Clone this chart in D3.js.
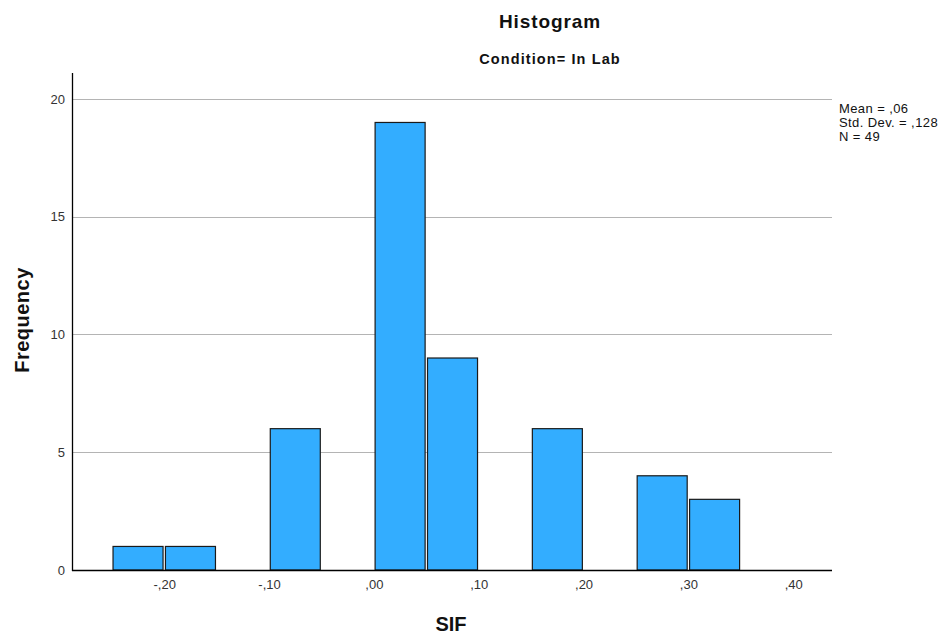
<!DOCTYPE html>
<html>
<head>
<meta charset="utf-8">
<script src="https://cdn.jsdelivr.net/npm/d3@7"></script>
<style>
  html, body { margin: 0; padding: 0; background: #fff; }
  svg { display: block; font-family: "Liberation Sans", Arial, sans-serif; }
</style>
</head>
<body>
<svg id="chart" width="945" height="635"></svg>
<script>
// Histogram bins of SIF (bin start, bin end) and their frequencies
const binStarts = [-0.25, -0.20, -0.10, 0.00, 0.05, 0.15, 0.25, 0.30];
const binWidth = 0.05;
const frequencies = [1, 1, 6, 19, 9, 6, 4, 3];
const xTickValues = [-0.2, -0.1, 0.0, 0.1, 0.2, 0.3, 0.4];
const xTickLabels = ["-,20", "-,10", ",00", ",10", ",20", ",30", ",40"];
const yTickValues = [0, 5, 10, 15, 20];
const statsLines = ["Mean = ,06", "Std. Dev. = ,128", "N = 49"];

(function draw() {
  const svg = d3.select("#chart");
  const plotLeft = 72, plotRight = 832, plotTop = 73, plotBottom = 570;

  const x = d3.scaleLinear().domain([-0.288, 0.437]).range([plotLeft, plotRight]);
  const y = d3.scaleLinear().domain([0, 21.1]).range([plotBottom, plotTop]);

  // Horizontal gridlines
  svg.append("g")
    .selectAll("line")
    .data(yTickValues.filter(v => v > 0))
    .join("line")
    .attr("x1", plotLeft).attr("x2", plotRight)
    .attr("y1", d => Math.round(y(d)) + 0.5).attr("y2", d => Math.round(y(d)) + 0.5)
    .attr("stroke", "#b4b4b4").attr("stroke-width", 1.2);

  // Bars
  svg.append("g")
    .selectAll("rect")
    .data(binStarts.map((s, i) => ({ s, f: frequencies[i] })))
    .join("rect")
    .attr("x", d => x(d.s) + 1.2)
    .attr("width", d => x(d.s + binWidth) - x(d.s) - 2.4)
    .attr("y", d => y(d.f))
    .attr("height", d => y(0) - y(d.f))
    .attr("fill", "#33adff")
    .attr("stroke", "#1a1a1a")
    .attr("stroke-width", 1.2);

  // Y axis
  const yAxis = d3.axisLeft(y).tickValues(yTickValues).tickSize(0).tickPadding(7)
    .tickFormat(d3.format("d"));
  const yg = svg.append("g").attr("transform", `translate(${plotLeft},0)`).call(yAxis);
  yg.select(".domain").remove();
  yg.selectAll("text").attr("font-size", 13).attr("fill", "#333")
    .attr("font-family", "Liberation Sans, Arial, sans-serif");

  // X axis
  const xAxis = d3.axisBottom(x).tickValues(xTickValues).tickSize(0).tickPadding(10)
    .tickFormat((d, i) => xTickLabels[i]);
  const xg = svg.append("g").attr("transform", `translate(0,${plotBottom})`).call(xAxis);
  xg.select(".domain").remove();
  xg.selectAll("text").attr("font-size", 13).attr("fill", "#333")
    .attr("font-family", "Liberation Sans, Arial, sans-serif");

  // Axis lines
  svg.append("line").attr("x1", plotLeft + 0.5).attr("x2", plotLeft + 0.5)
    .attr("y1", plotTop).attr("y2", plotBottom + 1)
    .attr("stroke", "#000").attr("stroke-width", 1.3);
  svg.append("line").attr("x1", plotLeft).attr("x2", plotRight)
    .attr("y1", plotBottom + 0.5).attr("y2", plotBottom + 0.5)
    .attr("stroke", "#000").attr("stroke-width", 1.3);

  // Titles
  svg.append("text").attr("x", 550).attr("y", 28).attr("text-anchor", "middle")
    .attr("font-size", 19).attr("font-weight", "bold").attr("fill", "#111")
    .attr("letter-spacing", 0.9)
    .text("Histogram");
  svg.append("text").attr("x", 550).attr("y", 64).attr("text-anchor", "middle")
    .attr("font-size", 14.5).attr("font-weight", "bold").attr("fill", "#111")
    .attr("letter-spacing", 1.1)
    .text("Condition= In Lab");

  // Axis titles
  svg.append("text").attr("x", 451).attr("y", 631).attr("text-anchor", "middle")
    .attr("font-size", 20).attr("font-weight", "bold").attr("fill", "#111")
    .text("SIF");
  svg.append("text")
    .attr("transform", "translate(29,320) rotate(-90)")
    .attr("text-anchor", "middle")
    .attr("font-size", 20).attr("font-weight", "bold").attr("fill", "#111")
    .attr("letter-spacing", 0.5)
    .text("Frequency");

  // Summary statistics
  svg.append("g").selectAll("text")
    .data(statsLines)
    .join("text")
    .attr("x", 839)
    .attr("y", (d, i) => 113 + i * 14)
    .attr("font-size", 13).attr("fill", "#111")
    .attr("letter-spacing", 0.4)
    .text(d => d);
})();
</script>
</body>
</html>
